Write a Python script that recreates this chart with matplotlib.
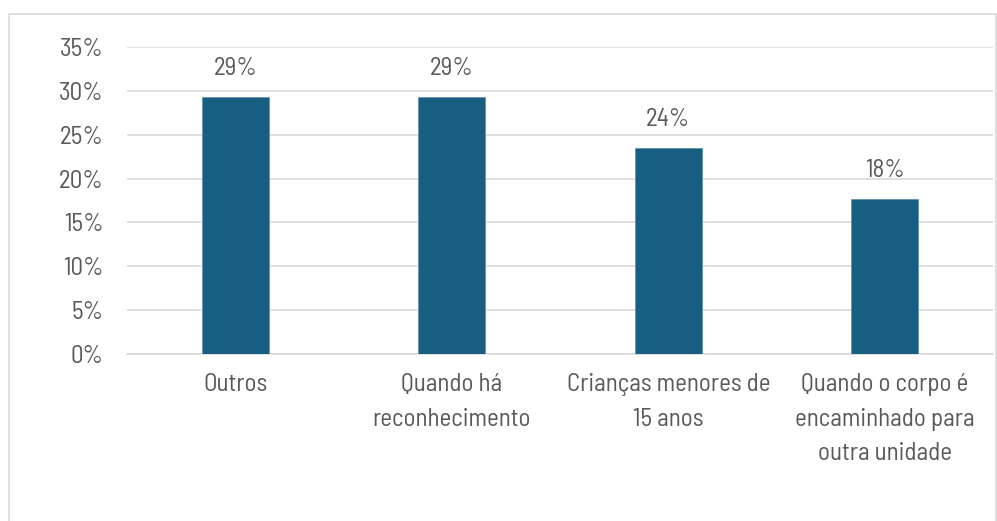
import matplotlib
matplotlib.use("Agg")
import matplotlib.pyplot as plt
from matplotlib.patches import Rectangle
from matplotlib.ticker import MultipleLocator, FuncFormatter

categories = ["Outros", "Quando há\nreconhecimento", "Crianças menores de\n15 anos",
              "Quando o corpo é\nencaminhado para\noutra unidade"]
values = [29.3, 29.3, 23.5, 17.7]
labels = ["29%", "29%", "24%", "18%"]

W, H, DPI = 997, 521, 100
fig = plt.figure(figsize=(W / DPI, H / DPI), dpi=DPI)
ax = fig.add_axes([127 / W, 1 - 354 / H, (993 - 127) / W, (354 - 47) / H])

text_col = "#595959"
font = ["Barlow Semi Condensed", "Liberation Sans", "DejaVu Sans"]
fs = 18

x = list(range(len(categories)))
ax.bar(x, values, width=0.31, color="#175E80", edgecolor="#5b8fa8", linewidth=0.5, zorder=3)
ax.set_xlim(-0.5, len(categories) - 0.5)
ax.set_ylim(0, 35)
ax.yaxis.set_major_locator(MultipleLocator(5))
ax.yaxis.set_major_formatter(FuncFormatter(lambda v, p: f"{int(v)}%"))
ax.grid(axis="y", color="#d9d9d9", linewidth=1.2, zorder=0)
ax.set_axisbelow(True)
for s in ["top", "right", "left"]:
    ax.spines[s].set_visible(False)
ax.spines["bottom"].set_color("#d9d9d9")
ax.spines["bottom"].set_linewidth(1.2)
ax.tick_params(axis="both", length=0)
ax.tick_params(axis="y", pad=17, labelcolor=text_col)
ax.tick_params(axis="x", pad=14, labelcolor=text_col)
ax.set_xticks(x)
ax.set_xticklabels(categories, family=font, fontsize=fs, linespacing=1.62, va="top")
for t in ax.get_yticklabels():
    t.set_family(font)
    t.set_fontsize(fs)

for xi, v, lab in zip(x, values, labels):
    ax.annotate(lab, (xi, v), xytext=(0, 28), textcoords="offset pixels",
                ha="center", va="center", fontsize=fs, color=text_col, family=font)

fig.patches.append(Rectangle((9 / W, -0.1), (996 - 9) / W, 1.1 - 14 / H,
                             transform=fig.transFigure, fill=False,
                             edgecolor="#d9d9d9", linewidth=1.2, clip_on=False))

fig.savefig("out.png", dpi=DPI, facecolor="white")
